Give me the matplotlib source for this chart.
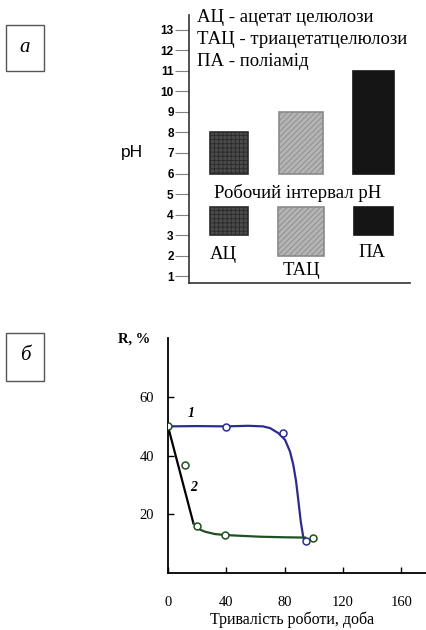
import matplotlib
matplotlib.use("Agg")
import matplotlib.pyplot as plt
from matplotlib.patches import Rectangle

# ---------------- data: panel a ----------------
materials = ["АЦ", "ТАЦ", "ПА"]
work_low = [6, 6, 6]
work_high = [8, 9, 11]
swatch_low = [3, 2, 3]
swatch_high = [4.35, 4.35, 4.35]
ph_ticks = list(range(1, 14))
legend_lines = ["АЦ - ацетат целюлози", "ТАЦ - триацетатцелюлози", "ПА - поліамід"]

# ---------------- data: panel b ----------------
# measured points
c1_x = [40, 79, 94.3]
c1_y = [49.9, 47.9, 10.9]
c2_x = [0, 11.6, 19.7, 38.8, 99.6]
c2_y = [50, 36.9, 15.9, 12.8, 11.9]
# drawn curves
c1_line_x = [0, 20, 40, 55, 65, 70, 75.6, 80.2, 83.6, 85.9, 87.8, 89.4, 91.0, 92.8, 94.1]
c1_line_y = [50, 50.1, 50, 50.2, 50, 49.4, 47.7, 45.4, 41.4, 36.8, 31.1, 24.3, 17.4, 11.8, 10.8]
c2_black_x = [0, 17.4]
c2_black_y = [50, 16.9]
c2_line_x = [17.4, 19.7, 22.0, 25.4, 32.2, 38.6, 50, 63, 80, 94]
c2_line_y = [16.9, 15.9, 14.7, 14.0, 13.2, 12.9, 12.6, 12.3, 12.1, 12.0]
x_ticks = [0, 40, 80, 120, 160]
y_ticks = [20, 40, 60]

W, H = 426, 630
plt.rcParams["hatch.linewidth"] = 0.6
fig = plt.figure(figsize=(W / 100, H / 100), dpi=100)
serif = ["Liberation Serif", "DejaVu Serif"]
sans = ["Liberation Sans", "DejaVu Sans"]


def fx(px):
    return px / W


def fy(py):
    return 1 - py / H


# ---------------- panel a ----------------
axa = fig.add_axes([fx(189), fy(283), fx(410) - fx(189), fy(15) - fy(283)])
axa.set_ylim(0.66, 13.73)
axa.set_xlim(-0.554, 2.505)
pos = [0, 1, 2]
widths = [0.53, 0.61, 0.57]
sw_widths = [0.53, 0.64, 0.54]
styles = [
    dict(facecolor="#4a4a4a", edgecolor="#2a2a2a", hatch="++++"),
    dict(facecolor="#b4b4b4", edgecolor="#8a8a8a", hatch="//////"),
    dict(facecolor="#151515", edgecolor="#151515", hatch=None),
]
for i, p in enumerate(pos):
    st = styles[i]
    axa.bar(p, work_high[i] - work_low[i], bottom=work_low[i], width=widths[i],
            facecolor=st["facecolor"], edgecolor=st["edgecolor"], hatch=st["hatch"], linewidth=1.2)
    axa.bar(p, swatch_high[i] - swatch_low[i], bottom=swatch_low[i], width=sw_widths[i],
            facecolor=st["facecolor"], edgecolor=st["edgecolor"], hatch=st["hatch"], linewidth=1.2)

label_y = [2.07, 1.29, 2.17]
label_x = [-0.08, 1.0, 1.98]
for i, m in enumerate(materials):
    axa.text(label_x[i], label_y[i], m, family=serif, fontsize=13.5, ha="center", va="center")
axa.text(0.95, 5.07, "Робочий інтервал рН", family=serif, fontsize=13.5, ha="center", va="center")

axa.set_yticks(ph_ticks)
axa.set_yticklabels([str(t) for t in ph_ticks], family=sans, fontsize=8.5, fontweight="bold")
axa.set_xticks([])
axa.tick_params(axis="y", direction="out", length=10, width=0.8, color="#808080", pad=1)
for s in ["top", "right"]:
    axa.spines[s].set_visible(False)
axa.spines["left"].set_color("#333333")
axa.spines["bottom"].set_color("#333333")
axa.spines["left"].set_linewidth(1.2)
axa.spines["bottom"].set_linewidth(1.2)

legend_y = [17, 39, 61]
for t, py in zip(legend_lines, legend_y):
    fig.text(fx(197), fy(py), t, family=serif, fontsize=13.5, ha="left", va="center")
fig.text(fx(132), fy(152), "рН", family=sans, fontsize=12.5, ha="center", va="center")

# label boxes
fig.patches.append(Rectangle((fx(6), fy(71)), fx(44) - fx(6), fy(25) - fy(71),
                             transform=fig.transFigure, fill=False, edgecolor="#555555", linewidth=1.0))
fig.text(fx(25), fy(48), "а", family=serif, style="italic", fontsize=15, ha="center", va="center")
fig.patches.append(Rectangle((fx(6), fy(381)), fx(44) - fx(6), fy(333) - fy(381),
                             transform=fig.transFigure, fill=False, edgecolor="#555555", linewidth=1.0))
fig.text(fx(25), fy(356), "б", family=serif, style="italic", fontsize=15, ha="center", va="center")

# ---------------- panel b ----------------
axb = fig.add_axes([fx(168), fy(572.7), fx(426) - fx(168), fy(338) - fy(572.7)])
axb.set_xlim(0, 176.8)
axb.set_ylim(0, 80.2)
blue = "#2c2c8e"
green = "#1f4f22"
axb.plot(c1_line_x, c1_line_y, color=blue, lw=1.6, solid_capstyle="round", zorder=2)
axb.plot(c2_black_x, c2_black_y, color="black", lw=1.6, zorder=2)
axb.plot(c2_line_x, c2_line_y, color=green, lw=1.6, zorder=2)
axb.plot(c1_x, c1_y, "o", ms=5, mfc="white", mec=blue, mew=1.1, zorder=3)
axb.plot(c2_x, c2_y, "o", ms=5, mfc="white", mec=green, mew=1.1, zorder=3)
axb.text(16.2, 54.5, "1", family=serif, style="italic", fontweight="bold", fontsize=10,
         ha="center", va="center")
axb.text(17.4, 29.2, "2", family=serif, style="italic", fontweight="bold", fontsize=10,
         ha="center", va="center")

axb.set_xticks(x_ticks)
axb.set_xticklabels([str(t) for t in x_ticks], family=serif, fontsize=10.5)
axb.set_yticks(y_ticks)
axb.set_yticklabels([str(t) for t in y_ticks], family=serif, fontsize=10.5)
axb.tick_params(axis="x", direction="in", length=4, width=1, pad=17)
axb.tick_params(axis="y", direction="in", length=4, width=1, pad=10)
for s in ["top", "right"]:
    axb.spines[s].set_visible(False)
axb.spines["left"].set_linewidth(1.3)
axb.spines["bottom"].set_linewidth(1.3)
fig.text(fx(292), fy(620), "Тривалість роботи, доба", family=serif, fontsize=11.5, ha="center", va="center")
fig.text(fx(134), fy(339), "R, %", family=serif, fontweight="bold", fontsize=10.5, ha="center", va="center")

fig.savefig("out.png", dpi=100)
